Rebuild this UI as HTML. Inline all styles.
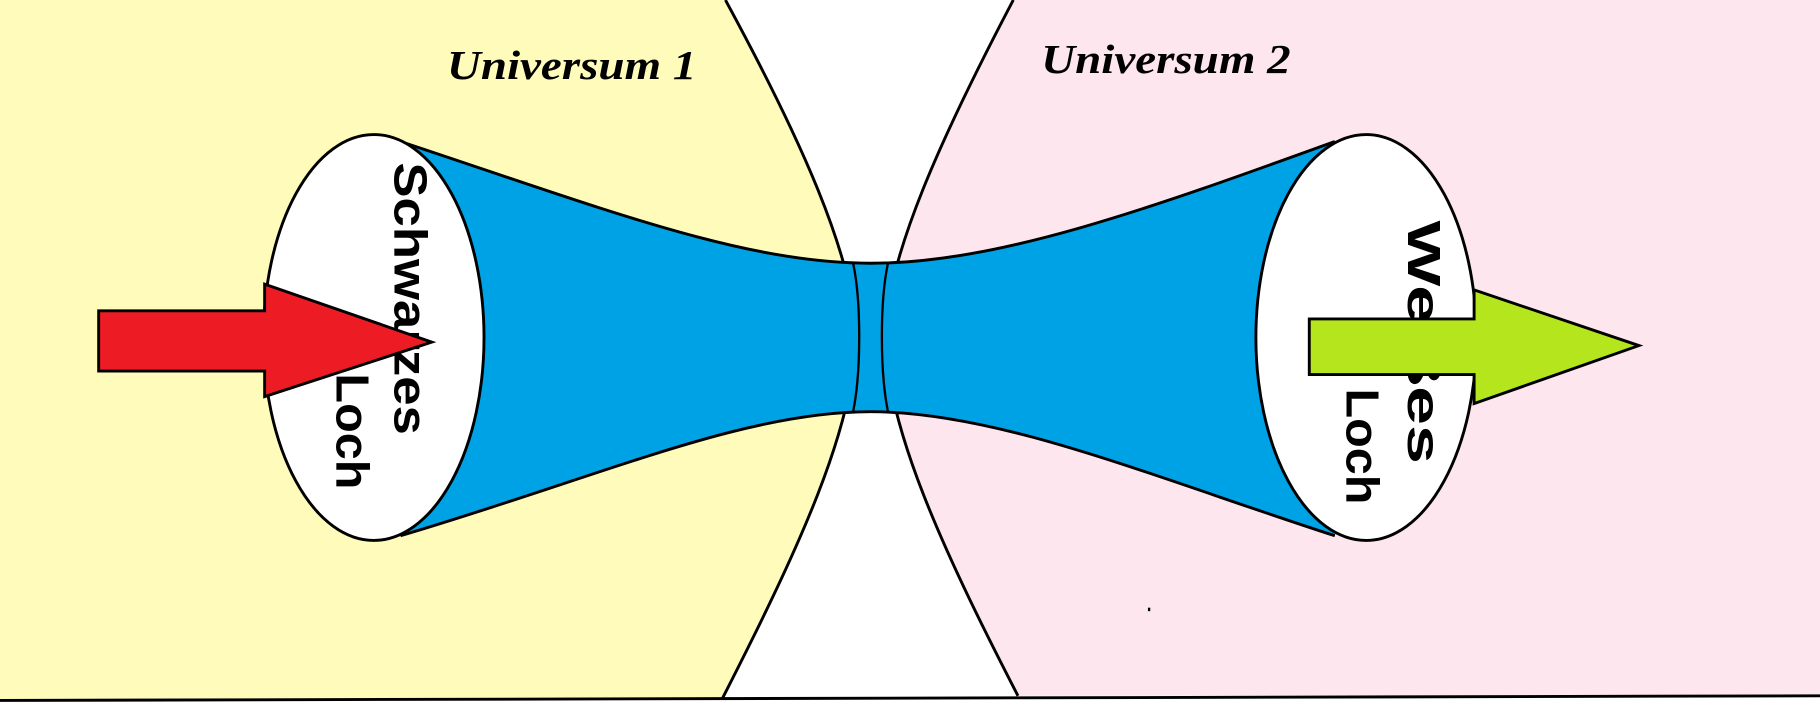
<!DOCTYPE html>
<html><head><meta charset="utf-8"><style>html,body{margin:0;padding:0;background:#fff}svg{display:block}</style></head>
<body>
<svg width="1820" height="719" viewBox="0 0 1568 620" preserveAspectRatio="none" xmlns="http://www.w3.org/2000/svg">
<rect width="1568" height="620" fill="#fff"/>
<path d="M0,0 L625,0 C690,120 735,220 738,290 C735,370 690,470 622,603 L0,603 Z" fill="#fefbbb"/>
<path d="M873,0 L1568,0 L1568,600 L877,600 C810,470 765,370 762,290 C765,220 810,120 873,0 Z" fill="#fde6ee"/>
<path d="M625,0 C690,120 735,220 738,290 C735,370 690,470 622,603" fill="none" stroke="#000" stroke-width="2.5"/>
<path d="M873,0 C810,120 765,220 762,290 C765,370 810,470 877,600" fill="none" stroke="#000" stroke-width="2.5"/>
<path d="M0,604 L1568,600" stroke="#000" stroke-width="2.5"/>
<path d="M345,122 C520,180 640,227 750,227 C860,227 990,180 1150,122 L1150,462 C990,410 860,355 750,355 C640,355 520,410 345,462 Z" fill="#00a2e6"/>
<path d="M345,122 C520,180 640,227 750,227 C860,227 990,180 1150,122" fill="none" stroke="#000" stroke-width="2.5"/>
<path d="M345,462 C520,410 640,355 750,355 C860,355 990,410 1150,462" fill="none" stroke="#000" stroke-width="2.5"/>
<path d="M735,227 C742,260 742,320 735,355 M765,227 C758,260 758,320 765,355" fill="none" stroke="#000" stroke-width="2"/>
<ellipse cx="322" cy="291" rx="95" ry="175" fill="#fff" stroke="#000" stroke-width="2.5"/>
<ellipse cx="1177" cy="291" rx="95" ry="175" fill="#fff" stroke="#000" stroke-width="2.5"/>
<text x="0" y="0" transform="translate(340,140) rotate(90)" font-family="Liberation Sans, sans-serif" font-weight="bold" font-size="40" textLength="235" lengthAdjust="spacingAndGlyphs">Schwarzes</text>
<text x="0" y="0" transform="translate(290,322) rotate(90)" font-family="Liberation Sans, sans-serif" font-weight="bold" font-size="40" textLength="100" lengthAdjust="spacingAndGlyphs">Loch</text>
<text x="0" y="0" transform="translate(1213,190) rotate(90)" font-family="Liberation Sans, sans-serif" font-weight="bold" font-size="40" textLength="210" lengthAdjust="spacingAndGlyphs">Weißes</text>
<text x="0" y="0" transform="translate(1160,335) rotate(90)" font-family="Liberation Sans, sans-serif" font-weight="bold" font-size="40" textLength="100" lengthAdjust="spacingAndGlyphs">Loch</text>
<path d="M85,268 L228,268 L228,245 L372,295 L228,342 L228,320 L85,320 Z" fill="#ed1c24" stroke="#000" stroke-width="2.5"/>
<path d="M1128,275 L1270,275 L1270,250 L1412,298 L1270,348 L1270,323 L1128,323 Z" fill="#b5e61d" stroke="#000" stroke-width="2.5"/>
<text x="385" y="68" font-family="Liberation Serif, serif" font-style="italic" font-weight="bold" font-size="36" textLength="215" lengthAdjust="spacingAndGlyphs">Universum 1</text>
<text x="897" y="63" font-family="Liberation Serif, serif" font-style="italic" font-weight="bold" font-size="36" textLength="215" lengthAdjust="spacingAndGlyphs">Universum 2</text>
<rect x="989" y="524" width="2" height="3" fill="#000"/>
</svg>
</body></html>
